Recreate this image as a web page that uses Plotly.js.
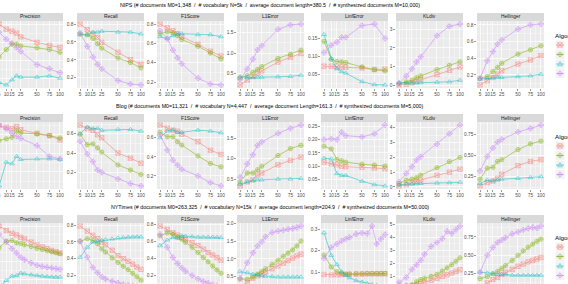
<!DOCTYPE html>
<html><head><meta charset="utf-8">
<script src="https://cdn.plot.ly/plotly-3.0.1.min.js"></script>
<style>
html,body{margin:0;padding:0;overflow:hidden;background:#fff;width:568px;height:284px}
#chart{position:absolute;left:-10px;top:0;width:578px;height:300px}
</style>
</head><body><div id="chart"></div>
<script>
// ---------------- data ----------------
const xValues = [5, 10, 15, 20, 25, 50, 75, 100];                       // NIPS, Blog
const nytXValues = [5, 10, 15, 20, 25, 30, 40, 50, 60, 70, 80, 90, 100];  // NYTimes
const xTickVals = [5, 10, 15, 25, 50, 75, 100];
const xTickText = ['5', '10', '15', '25', '50', '75', '100'];
const algorithms = ['Clustering', 'Frequency', 'Sampling', 'Topic model'];
const metrics = ['Precision', 'Recall', 'F1Score', 'L1Error', 'LinfError', 'KLdiv', 'Hellinger'];
const rowTitles = [
  'NIPS (# documents M0=1,348  /  # vocabulary N=5k  /  average document length=380.5  /  # synthesized documents M=10,000)',
  'Blog (# documents M0=11,321  /  # vocabulary N=4,447  /  average document Length=161.3  /  # synthesized documents M=5,000)',
  'NYTimes (# documents M0=263,325  /  # vocabulary N=15k  /  average document length=204.9  /  # synthesized documents M=50,000)'
];
// each panel: [C, F, S, T] series
const nipsPrecision = [[0.80,0.744,0.722,0.70,0.659,0.60,0.567,0.544],[0.44,0.52,0.58,0.58,0.56,0.54,0.52,0.49],[0.159,0.133,0.189,0.233,0.219,0.219,0.233,0.208],[0.711,0.633,0.589,0.544,0.50,0.356,0.311,0.267]];
const nipsRecall = [[0.80,0.737,0.69,0.65,0.596,0.485,0.403,0.35],[0.69,0.68,0.64,0.58,0.53,0.42,0.37,0.31],[0.68,0.68,0.71,0.71,0.72,0.71,0.71,0.69],[0.70,0.55,0.43,0.35,0.30,0.17,0.13,0.12]];
const nipsF1 = [[0.80,0.76,0.73,0.70,0.67,0.59,0.52,0.47],[0.70,0.72,0.71,0.68,0.64,0.57,0.50,0.44],[0.67,0.65,0.68,0.70,0.70,0.69,0.69,0.67],[0.73,0.65,0.53,0.45,0.39,0.24,0.18,0.17]];
const nipsL1 = [[0.22,0.34,0.43,0.51,0.56,0.78,0.90,0.99],[0.39,0.45,0.53,0.60,0.67,0.87,0.97,1.07],[0.42,0.40,0.40,0.41,0.41,0.42,0.43,0.46],[0.36,0.61,0.85,1.08,1.18,1.58,1.69,1.71]];
const nipsLinf = [[0.073,0.073,0.071,0.071,0.070,0.068,0.064,0.065],[0.142,0.092,0.086,0.085,0.083,0.071,0.063,0.060],[0.161,0.094,0.066,0.058,0.054,0.030,0.022,0.021],[0.111,0.131,0.14,0.153,0.153,0.186,0.19,0.15]];
const nipsKL = [[0.02,0.06,0.13,0.22,0.30,0.57,0.80,0.98],[0.09,0.18,0.27,0.41,0.50,0.84,1.07,1.25],[0.14,0.12,0.12,0.13,0.14,0.17,0.19,0.27],[0.10,0.50,0.88,1.25,1.52,2.65,3.15,3.27]];
const nipsHellinger = [[0.08,0.13,0.17,0.21,0.25,0.33,0.38,0.43],[0.16,0.18,0.24,0.29,0.34,0.45,0.50,0.55],[0.15,0.16,0.17,0.17,0.17,0.18,0.19,0.21],[0.16,0.37,0.48,0.57,0.62,0.75,0.80,0.81]];

const blogPrecision = [[0.693,0.675,0.661,0.682,0.650,0.611,0.587,0.541],[0.534,0.552,0.569,0.640,0.615,0.605,0.587,0.562],[0.05,0.304,0.287,0.365,0.333,0.34,0.34,0.333],[0.70,0.658,0.615,0.579,0.558,0.481,0.365,0.340]];
const blogRecall = [[0.69,0.653,0.635,0.59,0.558,0.40,0.347,0.295],[0.595,0.487,0.495,0.453,0.41,0.277,0.224,0.179],[0.60,0.67,0.653,0.655,0.635,0.645,0.645,0.627],[0.522,0.39,0.311,0.224,0.20,0.13,0.084,0.059]];
const blogF1 = [[0.733,0.70,0.68,0.67,0.636,0.558,0.47,0.425],[0.657,0.61,0.61,0.558,0.523,0.41,0.33,0.295],[0.60,0.67,0.68,0.657,0.657,0.68,0.67,0.653],[0.628,0.47,0.365,0.313,0.27,0.20,0.13,0.095]];
const blogL1 = [[0.33,0.43,0.48,0.60,0.65,0.85,0.96,1.04],[0.43,0.65,0.65,0.73,0.815,1.08,1.25,1.33],[0.375,0.43,0.46,0.48,0.48,0.50,0.50,0.515],[0.54,0.875,1.10,1.33,1.415,1.625,1.75,1.83]];
const blogLinf = [[0.115,0.108,0.105,0.10,0.098,0.096,0.093,0.09],[0.175,0.165,0.125,0.12,0.115,0.107,0.104,0.10],[0.13,0.127,0.072,0.065,0.065,0.043,0.03,0.025],[0.20,0.203,0.20,0.228,0.215,0.21,0.222,0.255]];
const blogKL = [[0.07,0.16,0.30,0.39,0.46,0.80,1.0,1.2],[0.23,0.46,0.53,0.62,0.80,1.30,1.71,1.99],[0.13,0.20,0.20,0.22,0.24,0.27,0.29,0.32],[0.34,0.92,1.37,1.83,2.05,2.9,3.59,4.18]];
const blogHellinger = [[0.14,0.18,0.198,0.23,0.278,0.38,0.43,0.45],[0.22,0.35,0.36,0.43,0.45,0.57,0.638,0.67],[0.17,0.21,0.20,0.21,0.22,0.23,0.24,0.25],[0.318,0.49,0.59,0.658,0.69,0.778,0.82,0.86]];

const nytPrecision = [[0.80,0.748,0.718,0.70,0.673,0.655,0.62,0.588,0.565,0.545,0.525,0.51,0.496],[0.555,0.63,0.637,0.61,0.603,0.59,0.57,0.548,0.535,0.522,0.51,0.50,0.488],[0.114,0.188,0.236,0.243,0.27,0.262,0.25,0.243,0.236,0.23,0.226,0.224,0.225],[0.707,0.618,0.545,0.496,0.448,0.42,0.385,0.359,0.345,0.335,0.328,0.32,0.312]];
const nytRecall = [[0.788,0.727,0.679,0.638,0.598,0.565,0.50,0.436,0.40,0.37,0.335,0.30,0.274],[0.606,0.638,0.618,0.577,0.516,0.48,0.41,0.355,0.31,0.27,0.225,0.185,0.145],[0.416,0.537,0.598,0.606,0.618,0.625,0.635,0.646,0.65,0.655,0.658,0.66,0.658],[0.606,0.416,0.295,0.234,0.185,0.16,0.13,0.113,0.095,0.085,0.075,0.07,0.064]];
const nytF1 = [[0.78,0.74,0.70,0.675,0.645,0.62,0.585,0.55,0.51,0.47,0.44,0.41,0.38],[0.665,0.70,0.684,0.65,0.625,0.59,0.53,0.47,0.41,0.36,0.31,0.265,0.225],[0.55,0.615,0.645,0.64,0.665,0.66,0.655,0.65,0.65,0.648,0.65,0.647,0.645],[0.684,0.53,0.41,0.34,0.29,0.25,0.20,0.16,0.13,0.11,0.09,0.075,0.065]];
const nytL1 = [[0.21,0.33,0.455,0.52,0.57,0.63,0.72,0.80,0.88,0.95,1.02,1.08,1.13],[0.43,0.43,0.49,0.57,0.64,0.72,0.84,0.96,1.07,1.16,1.25,1.36,1.50],[0.64,0.61,0.57,0.55,0.52,0.51,0.50,0.49,0.49,0.49,0.49,0.49,0.49],[0.455,0.89,1.17,1.36,1.48,1.62,1.74,1.78,1.80,1.83,1.85,1.88,1.92]];
const nytLinf = [[0.09,0.088,0.088,0.09,0.09,0.091,0.092,0.092,0.093,0.093,0.093,0.093,0.093],[0.18,0.125,0.103,0.095,0.092,0.092,0.093,0.093,0.094,0.094,0.094,0.095,0.095],[0.283,0.179,0.136,0.103,0.086,0.075,0.062,0.055,0.048,0.043,0.04,0.036,0.032],[0.165,0.216,0.232,0.246,0.255,0.262,0.278,0.283,0.28,0.315,0.232,0.255,0.275]];
const nytKL = [[0.2,0.18,0.25,0.35,0.45,0.55,0.7,0.85,1.0,1.12,1.25,1.38,1.5],[0.21,0.25,0.35,0.58,0.75,0.85,1.0,1.15,1.4,1.65,1.9,2.15,2.42],[0.35,0.35,0.3,0.25,0.22,0.21,0.2,0.2,0.19,0.18,0.18,0.18,0.18],[0.53,0.92,1.53,1.89,2.24,2.7,3.3,3.6,3.9,4.47,4.3,4.6,4.87]];
const nytHellinger = [[0.07,0.125,0.17,0.2,0.24,0.27,0.31,0.35,0.38,0.41,0.43,0.45,0.47],[0.184,0.21,0.25,0.28,0.32,0.36,0.43,0.50,0.56,0.61,0.65,0.69,0.72],[0.27,0.26,0.25,0.24,0.24,0.235,0.23,0.23,0.23,0.23,0.23,0.23,0.23],[0.27,0.50,0.607,0.674,0.706,0.74,0.79,0.817,0.845,0.865,0.878,0.868,0.897]];

const yStepNips = [0.2, 0.2, 0.2, 0.5, 0.05, 1, 0.2];
const yStepBlog = [0.2, 0.2, 0.2, 0.5, 0.05, 1, 0.25];
const yStepNyt = [0.2, 0.2, 0.2, 0.5, 0.1, 1, 0.25];

// ---------------- layout / styles ----------------
const rows = [
  {x: xValues, panels:[nipsPrecision,nipsRecall,nipsF1,nipsL1,nipsLinf,nipsKL,nipsHellinger], steps:yStepNips},
  {x: xValues, panels:[blogPrecision,blogRecall,blogF1,blogL1,blogLinf,blogKL,blogHellinger], steps:yStepBlog},
  {x: nytXValues, panels:[nytPrecision,nytRecall,nytF1,nytL1,nytLinf,nytKL,nytHellinger], steps:yStepNyt}
];
const colors = ['#F8766D', '#7CAE00', '#00BFC4', '#C77CFF'];
const symbols = ['square-x-open', 'circle-cross-open', 'triangle-up-open', 'diamond-cross-open'];
const FONT = 'Liberation Sans, Arial, Helvetica, sans-serif';
const W = 578, H = 300, OX = 10, ROWH = 101;
const colX = [[-4,63],[77,144],[157,224],[237,304],[321,388],[396,463],[477,544]];
const fx = p => (p + OX) / W;
const fy = p => 1 - p / H;

const sq = v => Math.sqrt(v);   // x axis uses a square-root scale
const xLo = sq(5) - 0.05 * (sq(100) - sq(5));
const xHi = sq(100) + 0.05 * (sq(100) - sq(5));
const majT = xTickVals.map(sq);
const minorX = [];
for (let i = 0; i < majT.length - 1; i++) minorX.push((majT[i] + majT[i + 1]) / 2);

const traces = [];
const layout = {
  width: W, height: H, margin: {l:0, r:0, t:0, b:0},
  paper_bgcolor: '#FFFFFF', plot_bgcolor: '#EBEBEB',
  showlegend: false, font: {family: FONT, color: '#4D4D4D'},
  shapes: [], annotations: []
};

rows.forEach((row, r) => {
  const top = 21 + ROWH * r, bot = 88 + ROWH * r;
  const xs = row.x.map(sq);
  row.panels.forEach((panel, c) => {
    const idx = r * 7 + c + 1;
    const xn = idx === 1 ? 'x' : 'x' + idx;
    const yn = idx === 1 ? 'y' : 'y' + idx;
    const all = panel.flat();
    const mn = Math.min(...all), mx = Math.max(...all), d = mx - mn;
    const step = row.steps[c];
    const dec = step < 0.1 || step === 0.25 ? 2 : (step < 1 ? 1 : 0);
    layout['xaxis' + (idx === 1 ? '' : idx)] = {
      domain: [fx(colX[c][0]), fx(colX[c][1])], anchor: yn,
      range: [xLo, xHi], tickmode: 'array', tickvals: majT, ticktext: xTickText, tickangle: 0,
      showline: false, zeroline: false, ticks: 'outside', ticklen: 1.6, tickwidth: 0.5, tickcolor: '#333333',
      tickfont: {family: FONT, size: 4.8, color: '#4D4D4D'}, ticklabelstandoff: 0,
      showticklabels: r < 2,
      showgrid: true, gridcolor: '#FFFFFF', gridwidth: 0.7,
      minor: {tickmode: 'array', tickvals: minorX, showgrid: true, gridcolor: '#FFFFFF', gridwidth: 0.35},
      fixedrange: true
    };
    layout['yaxis' + (idx === 1 ? '' : idx)] = {
      domain: [fy(bot), fy(top)], anchor: xn,
      range: [mn - 0.05 * d, mx + 0.05 * d], tickmode: 'linear', tick0: 0, dtick: step,
      tickformat: '.' + dec + 'f',
      showline: false, zeroline: false, ticks: 'outside', ticklen: 1.6, tickwidth: 0.5, tickcolor: '#333333',
      tickfont: {family: FONT, size: 4.8, color: '#4D4D4D'}, ticklabelstandoff: 0,
      showticklabels: c > 0,
      showgrid: true, gridcolor: '#FFFFFF', gridwidth: 0.7,
      minor: {tickmode: 'linear', tick0: 0, dtick: step / 2, showgrid: true, gridcolor: '#FFFFFF', gridwidth: 0.35},
      fixedrange: true
    };
    panel.forEach((ys, k) => {
      traces.push({
        type: 'scatter', mode: 'lines+markers', x: xs, y: ys, xaxis: xn, yaxis: yn,
        name: algorithms[k], opacity: 0.65, hoverinfo: 'skip', cliponaxis: true,
        line: {color: colors[k], width: 0.8},
        marker: {symbol: symbols[k], size: 4.3, color: colors[k], line: {color: colors[k], width: 0.7}}
      });
    });
    // facet strip
    layout.shapes.push({type: 'rect', xref: 'paper', yref: 'paper', layer: 'below',
      x0: fx(colX[c][0]), x1: fx(colX[c][1]), y0: fy(top), y1: fy(top - 8),
      fillcolor: '#D9D9D9', line: {width: 0}});
    layout.annotations.push({xref: 'paper', yref: 'paper', x: fx((colX[c][0] + colX[c][1]) / 2), y: fy(top - 4),
      text: metrics[c], showarrow: false, xanchor: 'center', yanchor: 'middle',
      font: {family: FONT, size: 4.9, color: '#1A1A1A'}});
  });
  // row title
  layout.annotations.push({xref: 'paper', yref: 'paper', x: fx(270), y: fy(5 + ROWH * r),
    text: rowTitles[r], showarrow: false, xanchor: 'center', yanchor: 'middle',
    font: {family: FONT, size: 5.3, color: '#000000'}});
  // legend (drawn manually: ggplot-style compact keys)
  layout.annotations.push({xref: 'paper', yref: 'paper', x: fx(552.5), y: fy(35 + ROWH * r),
    text: 'Algorithm', showarrow: false, xanchor: 'left', yanchor: 'middle',
    font: {family: FONT, size: 6.2, color: '#000000'}});
  algorithms.forEach((a, k) => {
    const cy = 45 + 9.5 * k + ROWH * r, cx = 560;
    layout.shapes.push({type: 'rect', xref: 'paper', yref: 'paper', x0: fx(555.5), x1: fx(564.5),
      y0: fy(cy + 4.5), y1: fy(cy - 4.5), fillcolor: '#F2F2F2', line: {width: 0}});
    layout.shapes.push({type: 'line', xref: 'paper', yref: 'paper', x0: fx(556), x1: fx(564), y0: fy(cy), y1: fy(cy),
      line: {color: colors[k], width: 0.8}, opacity: 0.65});
    layout.shapes.push({type: 'path', xref: 'paper', yref: 'paper', path: symPath(k, cx, cy, 2.2),
      line: {color: colors[k], width: 0.7}, opacity: 0.65});
    layout.annotations.push({xref: 'paper', yref: 'paper', x: fx(566), y: fy(cy),
      text: a, showarrow: false, xanchor: 'left', yanchor: 'middle',
      font: {family: FONT, size: 4.8, color: '#000000'}});
  });
});

function P(px, py) { return fx(px).toFixed(5) + ',' + fy(py).toFixed(5); }
function symPath(k, cx, cy, rr) {
  if (k === 0) {
    return 'M' + P(cx - rr, cy - rr) + 'L' + P(cx + rr, cy - rr) + 'L' + P(cx + rr, cy + rr) + 'L' + P(cx - rr, cy + rr) + 'Z' +
      'M' + P(cx - rr, cy - rr) + 'L' + P(cx + rr, cy + rr) + 'M' + P(cx + rr, cy - rr) + 'L' + P(cx - rr, cy + rr);
  }
  if (k === 1) {
    let s = '';
    for (let i = 0; i <= 16; i++) {
      const t = i / 16 * 2 * Math.PI;
      s += (i === 0 ? 'M' : 'L') + P(cx + rr * Math.cos(t), cy + rr * Math.sin(t));
    }
    return s + 'Z' + 'M' + P(cx - rr, cy) + 'L' + P(cx + rr, cy) + 'M' + P(cx, cy - rr) + 'L' + P(cx, cy + rr);
  }
  if (k === 2) {
    return 'M' + P(cx, cy - rr * 1.1) + 'L' + P(cx + rr * 1.05, cy + rr * 0.8) + 'L' + P(cx - rr * 1.05, cy + rr * 0.8) + 'Z';
  }
  const q = rr * 1.2;
  return 'M' + P(cx, cy - q) + 'L' + P(cx + q, cy) + 'L' + P(cx, cy + q) + 'L' + P(cx - q, cy) + 'Z' +
    'M' + P(cx - q, cy) + 'L' + P(cx + q, cy) + 'M' + P(cx, cy - q) + 'L' + P(cx, cy + q);
}

Plotly.newPlot('chart', traces, layout, {staticPlot: true, displayModeBar: false});
</script>
</body></html>
